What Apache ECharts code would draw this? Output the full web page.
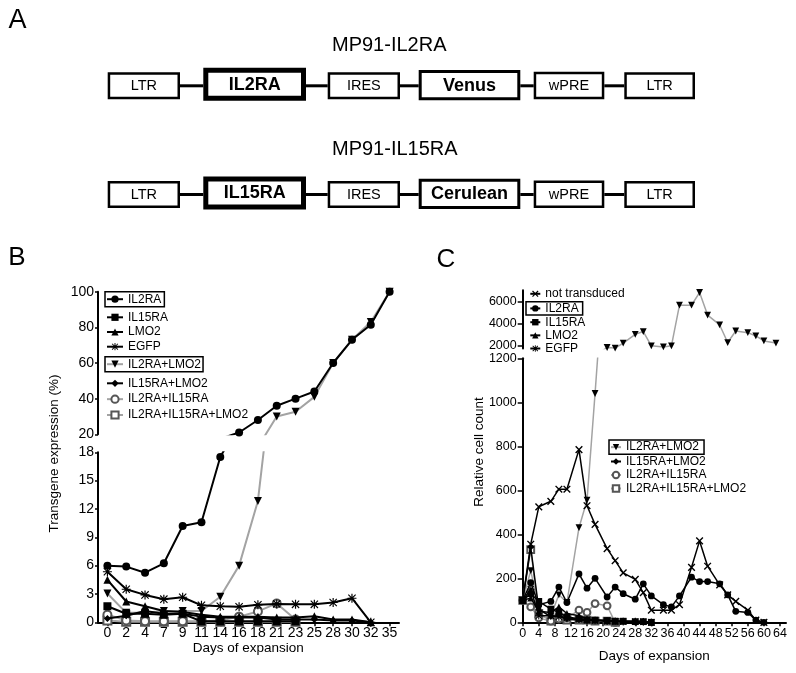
<!DOCTYPE html>
<html><head><meta charset="utf-8">
<script src="https://cdn.jsdelivr.net/npm/echarts@6/dist/echarts.min.js"></script>
<style>html,body{margin:0;padding:0;background:#fff}#c{width:796px;height:673px}</style>
</head><body><div id="c"></div>
<script>
// ---------- Panel B data (Transgene expression %) ----------
const daysB = ['0','2','4','7','9','11','14','16','18','21','23','25','28','30','32','35'];
const b_IL2RA = [6.0,5.9,5.25,6.25,10.2,10.6,17.5,21,28,36,40,44,60,73,81.5,100];
const b_IL15RA = [1.7,0.9,0.9,0.8,0.9,0.1,0.1,0.1,0.1,0.1,0.1];
const b_LMO2 = [4.5,2.2,1.7,1.2,1.1,0.8,0.6,0.6,0.6,0.5,0.5,0.65,0.3,0.3,0];
const b_EGFP = [5.35,3.5,2.9,2.45,2.65,1.8,1.7,1.65,1.85,1.95,1.9,1.9,2.1,2.55,0];
const b_IL2RA_LMO2 = [3.05,1.0,1.0,1.2,1.2,1.2,2.7,6.0,12.85,30,32.7,41,60,73,83,100];
const b_IL15RA_LMO2 = [0.4,0.7,1.2,0.9,0.9,0.6,0.5,0.5,0.5,0.3,0.3,0.3,0.2,0.2,0];
const b_IL2RA_IL15RA = [0.8,0.2,0.1,0.1,0.1,0.1,0.2,0.6,1.15,2.0,0.3];
const b_IL2RA_IL15RA_LMO2 = [0.2,0.05,0.05,0.05,0.05,0.05,0.05,0.05,0.05,0.05,0.05];

// ---------- Panel C data (Relative cell count) ----------
const daysC = [0,2,4,7,9,11,14,16,18,21,23,25,28,30,32,35,37,39,42,44,46,49,51,53,56,58,60,63];
const c_notTransduced = [100,355,525,550,605,605,785,530,445,335,280,225,195,135,55,55,55,80,250,370,255,170,125,95,55,10,0];
const c_IL2RA = [100,180,80,95,160,90,220,155,200,115,160,130,105,175,120,80,70,120,205,185,185,175,125,50,45,10,0];
const c_IL15RA = [100,130,95,60,45,25,15,10,10,8,5,5,3,3,0];
const c_LMO2 = [100,110,50,45,70,40,30,15,10,8,5,5,5,5,0];
const c_EGFP = [100,150,30,30,25,20,15,10,8,5,5,3,3,2,0];
const c_IL2RA_LMO2 = [100,235,60,30,125,90,430,555,1040,1800,1750,2200,3000,3250,1950,1850,1950,5650,5650,6800,4750,3850,2250,3300,3150,2850,2400,2200];
const c_IL15RA_LMO2 = [100,340,60,25,30,15,10,8,10,5,5,5,5,5,0];
const c_IL2RA_IL15RA = [100,70,20,5,15,20,55,45,85,75,0];
const c_IL2RA_IL15RA_LMO2 = [100,330,40,5,20,10,10,10,5,5,0];

// ---------- tick labels ----------
const xTicksC = [0,4,8,12,16,20,24,28,32,36,40,44,48,52,56,60,64];
const yTicksCUpper = [2000,4000,6000];

const FONT = '"Liberation Sans", Arial, Helvetica, sans-serif';
const GRAY = '#a3a3a3';
const CROSS = 'path://M0,1.3 L1.3,0 L10,8.7 L8.7,10 Z M8.7,0 L10,1.3 L1.3,10 L0,8.7 Z';
const STAR = 'path://M0,4.35 H10 V5.65 H0 Z M4.35,0 H5.65 V10 H4.35 Z M1.4,0.5 L9.5,8.6 L8.6,9.5 L0.5,1.4 Z M8.6,0.5 L9.5,1.4 L1.4,9.5 L0.5,8.6 Z';
const DOWN = 'path://M0,0 L10,0 L5,9 Z';

const ST = {
  'not transduced': {symbol: CROSS, size: 9, line: '#000', sym: '#000'},
  'IL2RA': {symbol: 'circle', size: 8, line: '#000', sym: '#000'},
  'IL15RA': {symbol: 'rect', size: 8, line: '#000', sym: '#000'},
  'LMO2': {symbol: 'triangle', size: 8, line: '#000', sym: '#000'},
  'EGFP': {symbol: STAR, size: 9, line: '#000', sym: '#000'},
  'IL2RA+LMO2': {symbol: DOWN, size: 8, line: GRAY, sym: '#000'},
  'IL15RA+LMO2': {symbol: 'diamond', size: 7, line: '#000', sym: '#000'},
  'IL2RA+IL15RA': {symbol: 'emptyCircle', size: 8, line: GRAY, sym: '#555'},
  'IL2RA+IL15RA+LMO2': {symbol: 'emptyRect', size: 8, line: GRAY, sym: '#555'}
};

function mk(name, data, xi, yi, panel) {
  const s = ST[name];
  const empty = typeof s.symbol === 'string' && s.symbol.indexOf('empty') === 0;
  return {
    type: 'line', name, xAxisIndex: xi, yAxisIndex: yi, data,
    symbol: s.symbol, symbolSize: panel === 'B' ? s.size : s.size * 0.85,
    showSymbol: true, clip: true, animation: false, connectNulls: false,
    lineStyle: {color: s.line, width: panel === 'B' ? 2 : 1.5},
    itemStyle: {color: s.sym, borderColor: s.sym, borderWidth: empty ? 1.3 : 0},
    emphasis: {disabled: true},
    z: s.line === GRAY ? 2 : 3
  };
}
const pairC = arr => arr.map((v, i) => [daysC[i], v]);

const seriesB = [
  ['IL2RA+IL15RA+LMO2', b_IL2RA_IL15RA_LMO2], ['IL2RA+IL15RA', b_IL2RA_IL15RA], ['IL2RA+LMO2', b_IL2RA_LMO2],
  ['IL15RA+LMO2', b_IL15RA_LMO2], ['IL15RA', b_IL15RA], ['LMO2', b_LMO2], ['EGFP', b_EGFP], ['IL2RA', b_IL2RA]
];
const seriesC = [
  ['IL2RA+IL15RA+LMO2', c_IL2RA_IL15RA_LMO2], ['IL2RA+IL15RA', c_IL2RA_IL15RA], ['IL2RA+LMO2', c_IL2RA_LMO2],
  ['IL15RA+LMO2', c_IL15RA_LMO2], ['IL15RA', c_IL15RA], ['LMO2', c_LMO2], ['EGFP', c_EGFP], ['IL2RA', c_IL2RA],
  ['not transduced', c_notTransduced]
];
const series = [];
seriesB.forEach(([n, d]) => { series.push(mk(n, d, 0, 0, 'B')); series.push(mk(n, d, 1, 1, 'B')); });
seriesC.forEach(([n, d]) => { series.push(mk(n, pairC(d), 2, 2, 'C')); series.push(mk(n, pairC(d), 3, 3, 'C')); });

const axLine = {show: true, lineStyle: {color: '#000', width: 2}};
const tick = len => ({show: true, length: len, lineStyle: {color: '#000', width: 1.5}});
const plain = v => String(v);
const lab = (fs, margin) => ({color: '#000', fontSize: fs, fontFamily: FONT, margin, formatter: plain});

const xAxis = [
  {gridIndex: 0, type: 'category', data: daysB, boundaryGap: true, show: false},
  {gridIndex: 1, type: 'category', data: daysB, boundaryGap: true, axisLine: axLine,
   axisTick: Object.assign(tick(4), {alignWithLabel: true, interval: 0}),
   axisLabel: Object.assign(lab(14, 4), {interval: 0}), splitLine: {show: false}},
  {gridIndex: 2, type: 'value', min: 0, max: 65.5, show: false},
  {gridIndex: 3, type: 'value', min: 0, max: 65.5, interval: 4, axisLine: axLine,
   axisTick: Object.assign(tick(4), {customValues: xTicksC}),
   axisLabel: Object.assign(lab(12.5, 5), {customValues: xTicksC, formatter: v => (v % 4 === 0 ? String(v) : '')}),
   splitLine: {show: false}}
];
const yAxis = [
  {gridIndex: 0, type: 'value', min: 20, max: 100, interval: 20, axisLine: axLine, axisTick: tick(3), axisLabel: lab(14, 4), splitLine: {show: false}},
  {gridIndex: 1, type: 'value', min: 0, max: 18, interval: 3, axisLine: axLine, axisTick: tick(3), axisLabel: lab(14, 4), splitLine: {show: false}},
  {gridIndex: 2, type: 'value', min: 1700, max: 7000, axisLine: axLine,
   axisTick: Object.assign(tick(5), {customValues: yTicksCUpper}),
   axisLabel: Object.assign(lab(12.5, 6), {customValues: yTicksCUpper, formatter: v => (v % 2000 === 0 ? String(v) : '')}),
   splitLine: {show: false}},
  {gridIndex: 3, type: 'value', min: 0, max: 1200, interval: 200, axisLine: axLine, axisTick: tick(5), axisLabel: lab(12.5, 6), splitLine: {show: false}}
];
const grid = [
  {left: 98, top: 291.7, width: 301, height: 142.6, outerBoundsMode: 'none', containLabel: false},
  {left: 98, top: 452.3, width: 301, height: 170, outerBoundsMode: 'none', containLabel: false},
  {left: 522.7, top: 290.3, width: 263.3, height: 58.3, outerBoundsMode: 'none', containLabel: false},
  {left: 522.7, top: 358.3, width: 263.3, height: 264, outerBoundsMode: 'none', containLabel: false}
];

function leg(names, left, top, gap, panel, border, pad) {
  const B = panel === 'B';
  const o = {
    data: names, orient: 'vertical', left, top, itemGap: gap,
    itemWidth: B ? 16 : 10, itemHeight: B ? 9 : 8, selectedMode: false,
    padding: pad || 0,
    textStyle: {fontSize: 12, fontFamily: FONT, color: '#000', lineHeight: B ? 12 : 11}
  };
  if (border) { o.borderColor = '#000'; o.borderWidth = 1.5; o.borderRadius = 0; o.backgroundColor = '#fff'; }
  return o;
}
const legend = [
  leg(['IL2RA'], 105, 291.7, 0, 'B', true, [1.5, 3, 1.5, 1]),
  leg(['IL15RA', 'LMO2', 'EGFP'], 106, 311.3, 2.7, 'B'),
  leg(['IL2RA+LMO2'], 105, 356.7, 0, 'B', true, [1.5, 2, 1.5, 1]),
  leg(['IL15RA+LMO2', 'IL2RA+IL15RA', 'IL2RA+IL15RA+LMO2'], 106, 377.3, 3.85, 'B'),
  leg(['not transduced'], 529.3, 287.8, 0, 'C'),
  leg(['IL2RA'], 526, 301.7, 0, 'C', true, [0.7, 4, 0.7, 3.3]),
  leg(['IL15RA', 'LMO2', 'EGFP'], 529.3, 316.2, 1.15, 'C'),
  leg(['IL2RA+LMO2'], 609, 440, 0, 'C', true, [1.15, 5, 1.15, 1]),
  leg(['IL15RA+LMO2', 'IL2RA+IL15RA', 'IL2RA+IL15RA+LMO2'], 610, 455.5, 1.5, 'C')
];

// ---------- Panel A schematic and text annotations ----------
const els = [];
function txt(x, y, text, size, weight, align, rot) {
  const e = {type: 'text', x, y, silent: true,
    style: {text, fill: '#000', fontSize: size, fontFamily: FONT, fontWeight: weight || 'normal',
      align: align || 'center', textAlign: align || 'center', verticalAlign: 'middle', textVerticalAlign: 'middle'}};
  if (rot) e.rotation = rot;
  els.push(e);
}
function box(x1, y1, x2, y2, lw, label, bold) {
  els.push({type: 'rect', silent: true, shape: {x: x1 + lw / 2, y: y1 + lw / 2, width: x2 - x1 - lw, height: y2 - y1 - lw},
    style: {fill: '#fff', stroke: '#000', lineWidth: lw}});
  txt((x1 + x2) / 2, (y1 + y2) / 2 + 0.5, label, bold ? 18 : 14.5, bold ? 'bold' : 'normal');
}
function conn(x1, x2, y) {
  els.push({type: 'line', silent: true, shape: {x1, y1: y, x2, y2: y}, style: {stroke: '#000', lineWidth: 3}});
}
function construct(dy, gene, reporter) {
  conn(180, 203.3, 85.8 + dy); conn(306, 327.7, 85.8 + dy); conn(400, 418.7, 85.8 + dy);
  conn(520.3, 533.7, 85.8 + dy); conn(604.3, 624.3, 85.8 + dy);
  box(107.7, 72.3 + dy, 180, 99.3 + dy, 2.5, 'LTR');
  box(203.3, 67.7 + dy, 306, 100.7 + dy, 5, gene, true);
  box(327.7, 72.3 + dy, 400, 99.3 + dy, 2.5, 'IRES');
  box(418.7, 70 + dy, 520.3, 100.3 + dy, 3, reporter, true);
  box(533.7, 71.7 + dy, 604.3, 99.3 + dy, 2.5, 'wPRE');
  box(624.3, 72.3 + dy, 695, 99.3 + dy, 2.5, 'LTR');
}
construct(0, 'IL2RA', 'Venus');
construct(108.7, 'IL15RA', 'Cerulean');
txt(332, 45, 'MP91-IL2RA', 20, 'normal', 'left');
txt(332, 149.3, 'MP91-IL15RA', 20, 'normal', 'left');
txt(17.5, 21, 'A', 27);
txt(17, 258, 'B', 26);
txt(446, 259.5, 'C', 26);
txt(54.5, 453.5, 'Transgene expression (%)', 13.5, 'normal', 'center', Math.PI / 2);
txt(248.3, 648, 'Days of expansion', 13.5);
txt(479, 452, 'Relative cell count', 13.5, 'normal', 'center', Math.PI / 2);
txt(654.3, 656, 'Days of expansion', 13.5);

const chart = echarts.init(document.getElementById('c'), null, {renderer: 'canvas', width: 796, height: 673});
chart.setOption({
  animation: false,
  backgroundColor: '#fff',
  textStyle: {fontFamily: FONT},
  grid, xAxis, yAxis, legend, series,
  tooltip: {show: false},
  graphic: {elements: els}
});
</script>
</body></html>
